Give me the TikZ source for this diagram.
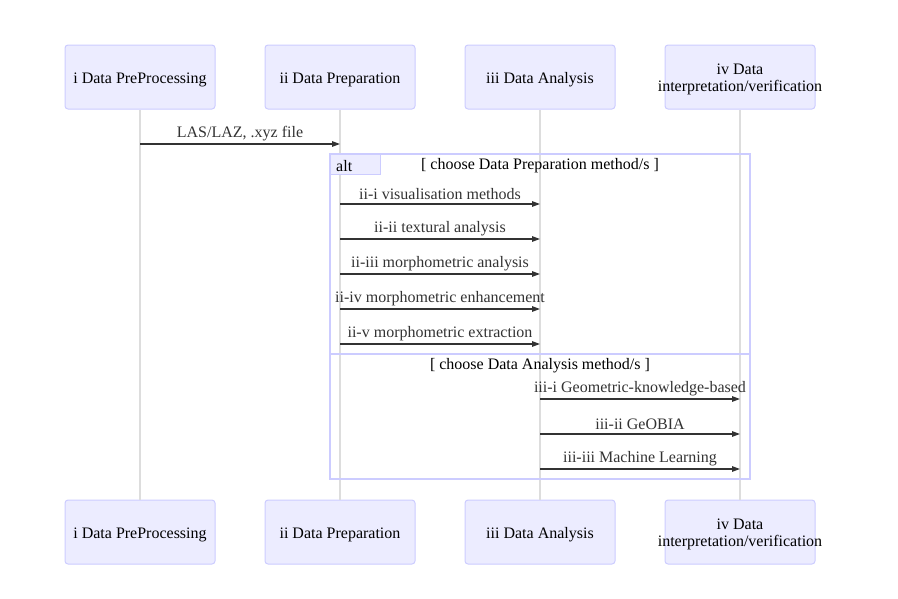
\documentclass[tikz,border=0pt]{standalone}
\usepackage{fontspec}
\setmainfont{Liberation Serif}
\usetikzlibrary{arrows.meta}
\definecolor{actfill}{HTML}{ECECFF}
\definecolor{actline}{HTML}{CCCCFF}
\definecolor{lifec}{HTML}{DDDDDD}
\definecolor{msgc}{HTML}{333333}
\tikzset{
  actor/.style={draw=actline, fill=actfill, line width=1pt, rounded corners=3pt,
    minimum width=150pt, minimum height=64pt, inner sep=0pt},
  atext/.style={align=center, inner sep=0pt, yshift=-2.5pt,
    font=\fontsize{16}{17.5}\selectfont, text=black},
  life/.style={draw=lifec, line width=1.5pt},
  msg/.style={draw=msgc, line width=1.3pt, -{Triangle[length=8pt,width=5.5pt]}},
  mlabel/.style={font=\fontsize{16}{18}\selectfont, text=msgc, inner sep=0pt},
  frame/.style={draw=actline, line width=1.8pt},
}
\begin{document}
\begin{tikzpicture}[x=1pt,y=-1pt]
\useasboundingbox (0,0) rectangle (898,598);
% actors
\foreach \n/\x/\t in {a/140/i Data PreProcessing, b/340/ii Data Preparation, c/540/iii Data Analysis, d/740/{iv Data\\interpretation/verification}}{
  \node[actor] (\n top) at (\x,77) {};
  \node[atext] (\n topt) at (\n top) {\t};
  \node[actor] (\n bot) at (\x,532) {};
  \node[atext] (\n bott) at (\n bot) {\t};
}
% lifelines
\foreach \n in {a,b,c,d}{
  \draw[life] (\n top.south) -- (\n bot.north);
}
% message anchor coordinates
\foreach \n/\x in {a/140,b/340,c/540,d/740}{
  \foreach \y/\k in {144/0,204/1,239/2,274/3,309/4,344/5,399/6,434/7,469/8}{
    \coordinate (\n\k) at (\x,\y);
  }
}
% alt frame
\coordinate (fa) at (330,154);
\coordinate (fb) at (750,479);
\draw[frame] (fa) rectangle (fb);
\node[draw=actline, fill=actfill, line width=1pt, minimum width=50pt, minimum height=20pt, anchor=north west, inner sep=0pt] (altbox) at (fa) {};
\node[mlabel, text=black, anchor=west] (alttxt) at (336,166) {alt};
\node[mlabel, text=black] (g1) at (540,166) {[ choose Data Preparation method/s ]};
\coordinate (da) at (330,354);
\coordinate (db) at (750,354);
\draw[frame] (da) -- (db);
\node[mlabel, text=black] (g2) at (540,366) {[ choose Data Analysis method/s ]};
% messages
\draw[msg] (a0) -- (b0);
\node[mlabel] (l0) at (240,134) {LAS/LAZ, .xyz file};
\draw[msg] (b1) -- (c1);
\node[mlabel] (l1) at (440,194) {ii-i visualisation methods};
\draw[msg] (b2) -- (c2);
\node[mlabel] (l2) at (440,229) {ii-ii textural analysis};
\draw[msg] (b3) -- (c3);
\node[mlabel] (l3) at (440,264) {ii-iii morphometric analysis};
\draw[msg] (b4) -- (c4);
\node[mlabel] (l4) at (440,299) {ii-iv morphometric enhancement};
\draw[msg] (b5) -- (c5);
\node[mlabel] (l5) at (440,334) {ii-v morphometric extraction};
\draw[msg] (c6) -- (d6);
\node[mlabel] (l6) at (640,389) {iii-i Geometric-knowledge-based};
\draw[msg] (c7) -- (d7);
\node[mlabel] (l7) at (640,424) {iii-ii GeOBIA};
\draw[msg] (c8) -- (d8);
\node[mlabel] (l8) at (640,459) {iii-iii Machine Learning};
\end{tikzpicture}
\end{document}
